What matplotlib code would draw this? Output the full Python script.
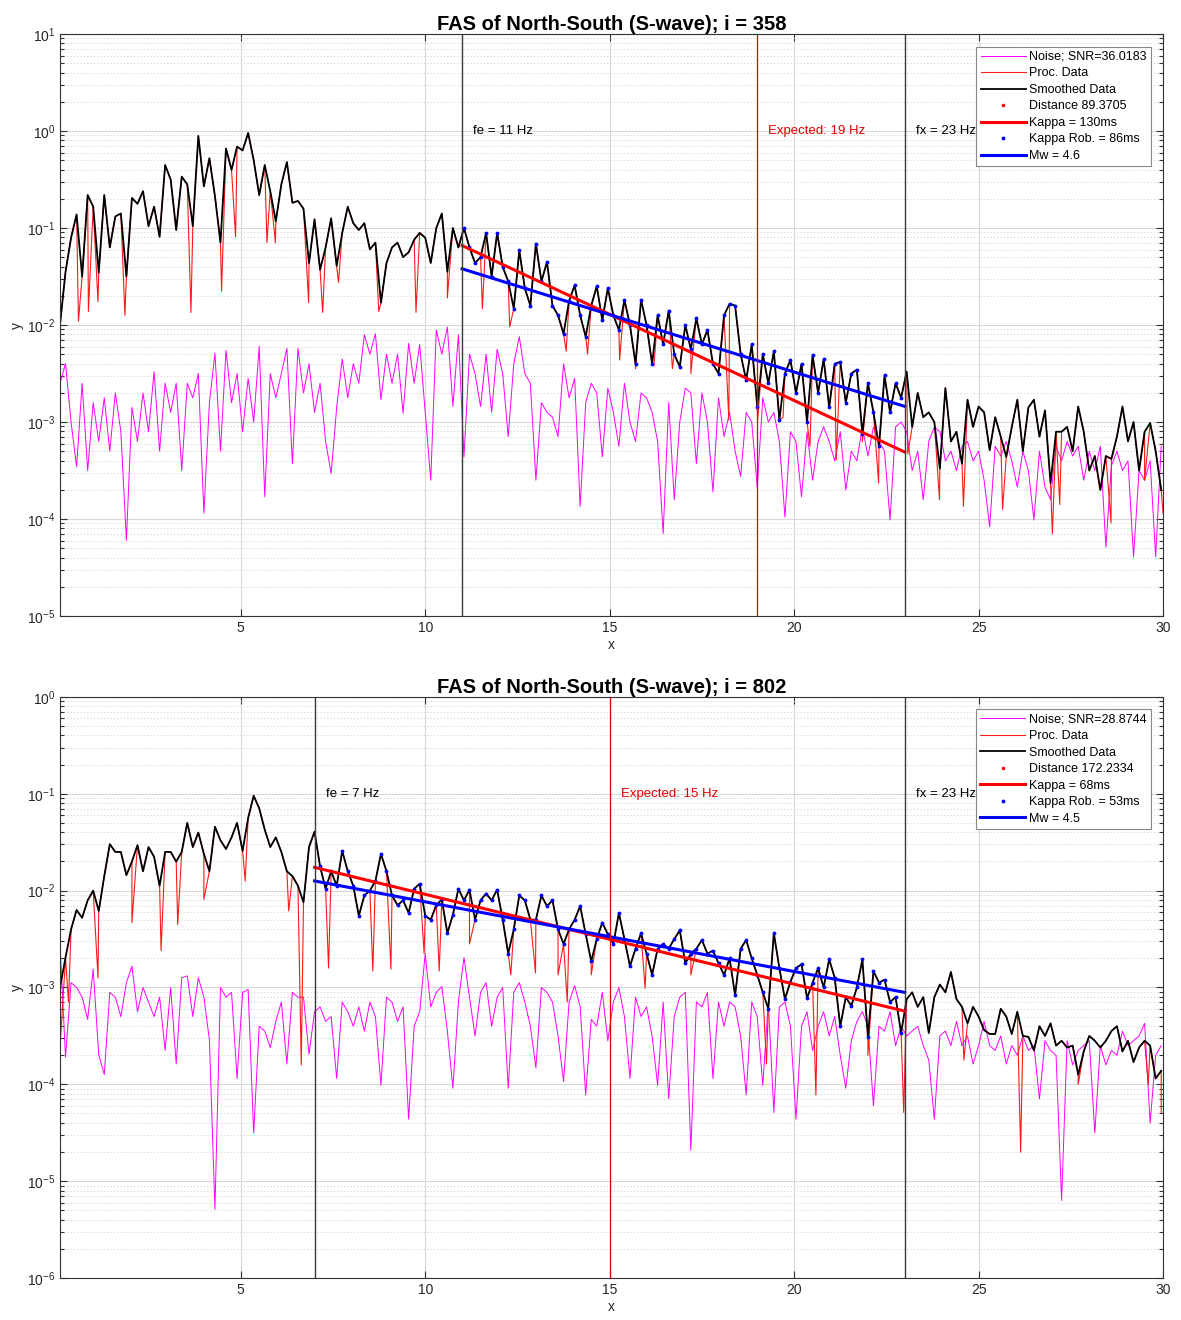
import matplotlib
matplotlib.use("Agg")
import matplotlib.pyplot as plt
import numpy as np
from matplotlib.ticker import LogLocator, NullFormatter, FixedLocator

plt.rcParams["font.family"] = ["Liberation Sans", "DejaVu Sans"]
plt.rcParams["mathtext.fontset"] = "custom"
plt.rcParams["mathtext.rm"] = "Liberation Sans"

FREQ_START = 0.1
FREQ_STEP = 0.15

# ---------- event i = 358 (values are log10 of amplitude) ----------
top_smooth_log = [
    -2.0, -1.45, -1.1, -0.86, -1.5, -0.66, -0.78, -1.46, -0.66, -1.2,
    -0.88, -0.85, -1.5, -0.69, -0.75, -0.62, -0.98, -0.78, -1.09, -0.35,
    -0.5, -1.02, -0.47, -0.55, -0.98, -0.05, -0.57, -0.28, -0.67, -1.15,
    -0.18, -0.4, -0.16, -0.2, -0.02, -0.3, -0.66, -0.35, -0.62, -0.93,
    -0.55, -0.32, -0.74, -0.72, -0.8, -1.36, -0.91, -1.43, -1.2, -0.9,
    -1.39, -1.05, -0.78, -0.95, -1.02, -0.95, -1.22, -1.15, -1.77, -1.36,
    -1.2, -1.15, -1.3, -1.25, -1.12, -1.05, -1.1, -1.36, -1.0, -0.85,
    -1.45, -1.0, -1.2, -1.0, -1.2, -1.36, -1.3, -1.05, -1.5, -1.05,
    -1.4, -1.55, -1.83, -1.23, -1.62, -1.8, -1.16, -1.55, -1.35, -1.8,
    -1.9, -2.09, -1.75, -1.59, -1.9, -2.12, -1.8, -1.6, -1.95, -1.62,
    -1.9, -2.05, -1.74, -2.0, -2.4, -1.74, -2.0, -2.4, -1.9, -2.2,
    -1.85, -2.3, -2.43, -2.0, -2.25, -1.93, -2.2, -2.05, -2.4, -2.5,
    -1.9, -1.78, -1.8, -2.3, -2.57, -2.2, -2.84, -2.3, -2.6, -2.27,
    -2.98, -2.5, -2.36, -2.7, -2.4, -3.0, -2.31, -2.7, -2.35, -2.85,
    -2.4, -2.38, -2.8, -2.5, -2.46, -3.12, -2.6, -2.9, -3.25, -2.52,
    -2.9, -2.6, -2.75, -2.48, -3.05, -2.7, -2.95, -2.9, -3.0, -3.48,
    -2.65, -3.2, -3.1, -3.43, -2.77, -3.05, -2.84, -2.9, -3.29, -2.95,
    -3.15, -3.36, -3.05, -2.77, -3.3, -2.85, -2.77, -3.15, -2.88, -3.63,
    -3.1, -3.1, -3.05, -3.3, -2.84, -3.1, -3.5, -3.35, -3.7, -3.35,
    -3.38, -3.15, -2.84, -3.2, -3.0, -3.5, -3.1, -3.01, -3.3, -3.7,
]
top_noise_log = [
    -2.6, -2.4, -3.0, -3.46, -2.6, -3.5, -2.8, -3.2, -2.75, -3.3,
    -2.7, -3.1, -4.22, -2.85, -3.2, -2.7, -3.1, -2.48, -3.3, -2.6,
    -2.9, -2.6, -3.5, -2.6, -2.75, -2.5, -3.94, -2.8, -2.29, -3.3,
    -2.26, -2.8, -2.5, -3.1, -2.55, -3.0, -2.22, -3.77, -2.5, -2.75,
    -2.5, -2.24, -3.43, -2.24, -2.7, -2.4, -2.9, -2.6, -3.2, -3.53,
    -2.85, -2.35, -2.75, -2.4, -2.6, -2.1, -2.3, -2.09, -2.77, -2.3,
    -2.6, -2.3, -2.91, -2.19, -2.6, -2.2, -2.9, -3.6, -2.05, -2.3,
    -2.02, -2.84, -2.1, -3.36, -2.3, -2.5, -2.84, -2.3, -2.9, -2.25,
    -2.5, -3.15, -2.4, -2.12, -2.5, -2.6, -3.6, -2.8, -2.9, -2.95,
    -3.15, -2.4, -2.75, -2.55, -3.87, -2.8, -2.6, -2.7, -3.36, -2.65,
    -2.9, -3.25, -2.6, -3.0, -3.2, -2.7, -2.75, -2.9, -3.2, -4.15,
    -2.8, -3.8, -3.0, -2.65, -2.7, -3.43, -2.7, -3.0, -3.72, -2.75,
    -3.15, -2.9, -3.3, -3.56, -2.9, -3.0, -3.67, -2.75, -3.0, -2.9,
    -3.2, -3.98, -3.1, -3.2, -3.77, -3.1, -3.6, -3.2, -3.05, -3.2,
    -3.4, -3.1, -3.7, -3.3, -3.4, -3.05, -3.35, -3.05, -3.2, -3.3,
    -4.01, -3.05, -3.0, -3.1, -3.5, -3.3, -3.8, -3.2, -3.05, -3.1,
    -3.4, -3.3, -3.5, -3.25, -3.2, -3.4, -3.3, -3.6, -4.08, -3.25,
    -3.35, -3.2, -3.4, -3.67, -3.3, -3.5, -4.01, -3.3, -3.67, -3.8,
    -3.25, -3.4, -3.2, -3.35, -3.25, -3.6, -3.3, -3.5, -3.25, -4.29,
    -3.45, -3.3, -3.5, -3.4, -4.39, -3.5, -3.6, -3.4, -4.39, -3.25,
]
# deep notches of the unsmoothed spectrum (Hz, log10 amplitude)
top_proc_dip_x = [0.6, 0.87, 1.13, 1.86, 3.65, 4.48, 4.86, 5.71, 5.94, 6.84,
                  7.22, 7.65, 8.74, 9.75, 10.6, 11.55, 12.29, 13.82, 14.4,
                  15.27, 15.7, 16.2, 16.7, 17.2, 18.23, 19.01, 19.7, 20.43,
                  21.14, 21.85, 22.29, 23.08, 23.94, 24.59, 25.65, 27.0,
                  27.2, 28.59, 29.5, 30.0]
top_proc_dip_y = [-1.96, -1.86, -1.76, -1.9, -1.87, -1.65, -1.09, -1.15, -1.15,
                  -1.77, -1.87, -1.56, -1.86, -1.87, -1.72, -1.83, -2.02,
                  -2.27, -2.3, -2.36, -2.45, -2.42, -2.45, -2.5, -2.98, -2.98,
                  -2.95, -3.25, -3.39, -3.2, -3.63, -3.33, -3.8, -3.87, -3.9,
                  -4.15, -3.85, -4.04, -3.6, -3.94]
top_fe, top_fexp, top_fx = 11, 19, 23
top_kappa_x = [11, 23]
top_kappa_y = [0.066, 4.9e-4]
top_rob_y = [0.038, 1.45e-3]
top_labels = ["Noise; SNR=36.0183", "Proc. Data", "Smoothed Data",
              "Distance 89.3705", "Kappa = 130ms", "Kappa Rob. = 86ms",
              "Mw = 4.6"]

# ---------- event i = 802 ----------
bot_smooth_log = [
    -3.0, -2.69, -2.4, -2.2, -2.28, -2.1, -2.0, -2.21, -1.85, -1.52,
    -1.6, -1.6, -1.84, -1.7, -1.53, -1.8, -1.55, -1.65, -1.95, -1.6,
    -1.6, -1.7, -1.6, -1.3, -1.55, -1.4, -1.62, -1.8, -1.34, -1.48,
    -1.57, -1.45, -1.3, -1.59, -1.25, -1.02, -1.15, -1.37, -1.55, -1.45,
    -1.6, -1.8, -1.85, -1.95, -2.12, -1.55, -1.39, -1.75, -1.98, -1.8,
    -1.95, -1.59, -1.8, -1.95, -2.26, -2.05, -2.0, -1.9, -1.62, -1.8,
    -2.05, -2.15, -2.1, -2.23, -1.98, -1.93, -2.26, -2.3, -2.15, -2.09,
    -2.44, -2.25, -1.98, -2.1, -1.99, -2.3, -2.1, -2.03, -2.1, -1.99,
    -2.3, -2.65, -2.4, -2.05, -2.1, -2.3, -2.3, -2.05, -2.16, -2.1,
    -2.4, -2.55, -2.4, -2.3, -2.16, -2.45, -2.73, -2.5, -2.33, -2.45,
    -2.55, -2.23, -2.5, -2.78, -2.6, -2.44, -2.65, -2.87, -2.6, -2.55,
    -2.6, -2.5, -2.41, -2.75, -2.65, -2.6, -2.51, -2.65, -2.62, -2.75,
    -2.87, -2.7, -3.08, -2.6, -2.51, -2.7, -2.87, -3.05, -3.22, -2.44,
    -2.8, -3.12, -2.94, -2.8, -2.76, -3.11, -2.95, -2.8, -3.0, -2.71,
    -2.9, -3.4, -3.1, -3.19, -3.0, -2.71, -3.51, -2.83, -2.95, -2.92,
    -3.15, -3.1, -3.47, -3.12, -3.05, -3.2, -3.1, -3.47, -3.1, -2.97,
    -3.05, -2.84, -3.12, -3.2, -3.37, -3.2, -3.3, -3.44, -3.48, -3.48,
    -3.22, -3.3, -3.48, -3.25, -3.5, -3.51, -3.65, -3.4, -3.5, -3.37,
    -3.6, -3.55, -3.62, -3.6, -3.9, -3.66, -3.5, -3.55, -3.62, -3.55,
    -3.45, -3.4, -3.66, -3.55, -3.77, -3.62, -3.55, -3.6, -3.94, -3.86,
]
bot_noise_log = [
    -2.55, -3.72, -2.95, -3.0, -3.1, -3.33, -2.81, -3.69, -3.9, -3.05,
    -3.1, -3.3, -2.95, -2.78, -3.25, -3.0, -3.15, -3.3, -3.1, -3.65,
    -3.0, -3.79, -2.9, -2.88, -3.3, -2.9, -3.1, -3.54, -5.29, -3.0,
    -3.1, -3.05, -3.94, -3.05, -3.02, -4.5, -3.4, -3.45, -3.62, -3.35,
    -3.15, -3.79, -3.05, -3.1, -3.1, -3.69, -3.25, -3.2, -3.35, -3.3,
    -3.94, -3.15, -3.25, -3.4, -3.2, -3.45, -3.15, -3.3, -4.01, -3.1,
    -3.15, -3.35, -3.2, -4.36, -3.4, -3.25, -2.65, -3.2, -3.05, -2.99,
    -3.45, -4.04, -3.15, -2.69, -3.1, -3.5, -3.05, -2.95, -3.4, -3.1,
    -3.0, -4.04, -3.05, -2.95, -3.15, -3.4, -3.83, -3.0, -3.05, -3.15,
    -3.5, -3.97, -3.15, -2.98, -3.2, -4.11, -3.33, -3.4, -3.05, -3.55,
    -3.15, -3.0, -3.3, -3.94, -3.1, -3.3, -3.2, -3.5, -4.01, -3.15,
    -4.15, -3.3, -3.1, -3.05, -4.68, -3.15, -3.2, -3.05, -3.94, -3.15,
    -3.4, -3.15, -3.2, -3.5, -4.11, -3.15, -3.3, -4.01, -3.15, -4.29,
    -3.2, -3.15, -3.4, -4.36, -3.4, -3.25, -3.65, -3.4, -3.25, -3.5,
    -3.3, -3.7, -4.04, -3.55, -3.35, -3.25, -3.4, -4.22, -3.4, -3.45,
    -3.25, -3.6, -3.4, -3.5, -3.45, -3.4, -3.6, -3.75, -4.36, -3.5,
    -3.45, -3.6, -3.35, -3.6, -3.5, -3.79, -3.6, -3.35, -3.6, -3.65,
    -3.5, -3.79, -3.6, -3.7, -3.5, -3.65, -3.6, -4.15, -3.55, -3.65,
    -3.7, -5.2, -3.55, -3.8, -3.65, -3.6, -3.55, -4.5, -3.6, -3.8,
    -3.65, -3.7, -3.45, -3.6, -3.55, -3.5, -3.37, -4.4, -3.7, -3.6,
]
bot_proc_dip_x = [0.12, 0.33, 1.13, 2.05, 2.84, 3.29, 4.0, 5.12, 6.3, 6.64,
                  7.38, 8.58, 9.07, 9.97, 10.38, 11.2, 12.32, 12.99, 13.6,
                  13.85, 14.5, 15.96, 17.2, 19.25, 20.59, 22.0, 22.97, 24.6,
                  26.14, 27.7, 29.6, 29.95]
bot_proc_dip_y = [-3.5, -3.15, -2.9, -2.33, -2.62, -2.35, -2.09, -1.9, -2.21,
                  -3.8, -2.8, -2.83, -2.81, -2.65, -2.83, -2.55, -2.87, -2.85,
                  -2.87, -3.15, -2.87, -3.01, -2.87, -3.79, -4.11, -3.7, -4.29,
                  -3.75, -4.7, -4.0, -4.0, -4.29]
bot_fe, bot_fexp, bot_fx = 7, 15, 23
bot_kappa_x = [7, 23]
bot_kappa_y = [0.0174, 5.7e-4]
bot_rob_y = [0.0126, 8.9e-4]
bot_labels = ["Noise; SNR=28.8744", "Proc. Data", "Smoothed Data",
              "Distance 172.2334", "Kappa = 68ms", "Kappa Rob. = 53ms",
              "Mw = 4.5"]


def draw_panel(ax, title, smooth_log, noise_log, dip_x, dip_y, fe, fexp, fx,
               kappa_x, kappa_y, rob_y, labels, ylim, text_y):
    smooth_log = np.asarray(smooth_log)
    noise_log = np.asarray(noise_log)
    f_s = FREQ_START + FREQ_STEP * np.arange(smooth_log.size)
    f_n = FREQ_START + FREQ_STEP * np.arange(noise_log.size)

    # processed spectrum: smoothed samples plus its deep notches
    f_p = np.concatenate([f_s, dip_x])
    a_p = np.concatenate([smooth_log, dip_y])
    order = np.argsort(f_p, kind="stable")
    f_p, a_p = f_p[order], a_p[order]

    h_noise, = ax.plot(f_n, 10.0 ** noise_log, color="#ff00ff", lw=0.7)
    h_proc, = ax.plot(f_p, 10.0 ** a_p, color="#ff1a1a", lw=0.8)
    h_smooth, = ax.plot(f_s, 10.0 ** smooth_log, color="black", lw=1.3)
    h_dist, = ax.plot([], [], ls="none", marker=".", color="#ff0000", ms=3)
    inside = (f_s >= fe) & (f_s <= fx)
    h_rob, = ax.plot(f_s[inside], 10.0 ** smooth_log[inside], ls="none",
                     marker=".", color="#0000ff", ms=3.5)
    h_kappa, = ax.plot(kappa_x, kappa_y, color="#ff0000", lw=2.2)
    h_mw, = ax.plot(kappa_x, rob_y, color="#0000ff", lw=2.2)

    ax.axvline(fe, color="#3a3a3a", lw=1.0)
    ax.axvline(fx, color="#3a3a3a", lw=1.0)
    ax.axvline(fexp, color="#e00000", lw=0.9)
    ax.text(fe + 0.3, text_y, f"fe = {fe} Hz", fontsize=9.5, va="center")
    ax.text(fexp + 0.3, text_y, f"Expected: {fexp} Hz", fontsize=9.5,
            va="center", color="#e00000")
    ax.text(fx + 0.3, text_y, f"fx = {fx} Hz", fontsize=9.5, va="center")

    ax.set_yscale("log")
    ax.set_xlim(0.1, 30)
    ax.set_ylim(*ylim)
    ax.xaxis.set_major_locator(FixedLocator([5, 10, 15, 20, 25, 30]))
    ax.yaxis.set_major_locator(LogLocator(base=10, numticks=20))
    ax.yaxis.set_minor_locator(LogLocator(base=10, subs=np.arange(2, 10), numticks=20))
    ax.yaxis.set_minor_formatter(NullFormatter())
    ax.tick_params(which="both", direction="in", top=True, right=True,
                   labelsize=10, width=0.8, color="#333333",
                   labelcolor="#262626")
    ax.tick_params(which="major", length=5)
    ax.tick_params(which="minor", length=3)
    ax.grid(True, which="major", color="#d9d9d9", lw=0.8)
    ax.grid(True, which="minor", axis="y", color="#d0d0d0", lw=0.6, ls=(0, (1.5, 2.5)))
    ax.set_axisbelow(True)
    for side in ax.spines.values():
        side.set_color("#333333")
        side.set_linewidth(0.8)

    ax.set_xlabel("x", fontsize=10, labelpad=2, color="#262626")
    ax.set_ylabel("y", fontsize=10, labelpad=2, color="#262626")
    ax.set_title(title, fontsize=14.5, fontweight="bold", pad=3)

    handles = [h_noise, h_proc, h_smooth, h_dist, h_kappa, h_rob, h_mw]
    leg = ax.legend(handles, labels, loc="upper right", fontsize=9,
                    handlelength=3.6, handletextpad=0.25, labelspacing=0.36,
                    borderpad=0.35, borderaxespad=1.0, fancybox=False,
                    framealpha=1.0, edgecolor="#888888")
    leg.get_frame().set_linewidth(0.8)


def main() -> None:
    fig = plt.figure(figsize=(11.81, 13.2), dpi=100)
    ax_top = fig.add_axes([0.0508, 0.5333, 0.934, 0.4409])
    ax_bot = fig.add_axes([0.0508, 0.0318, 0.934, 0.4402])

    draw_panel(ax_top, "FAS of North-South (S-wave); i = 358",
               top_smooth_log, top_noise_log, top_proc_dip_x, top_proc_dip_y,
               top_fe, top_fexp, top_fx, top_kappa_x, top_kappa_y, top_rob_y,
               top_labels, (1e-5, 1e1), 1.0)
    draw_panel(ax_bot, "FAS of North-South (S-wave); i = 802",
               bot_smooth_log, bot_noise_log, bot_proc_dip_x, bot_proc_dip_y,
               bot_fe, bot_fexp, bot_fx, bot_kappa_x, bot_kappa_y, bot_rob_y,
               bot_labels, (1e-6, 1e0), 0.1)

    fig.savefig("out.png", dpi=100)
    plt.close(fig)


if __name__ == "__main__":
    main()
